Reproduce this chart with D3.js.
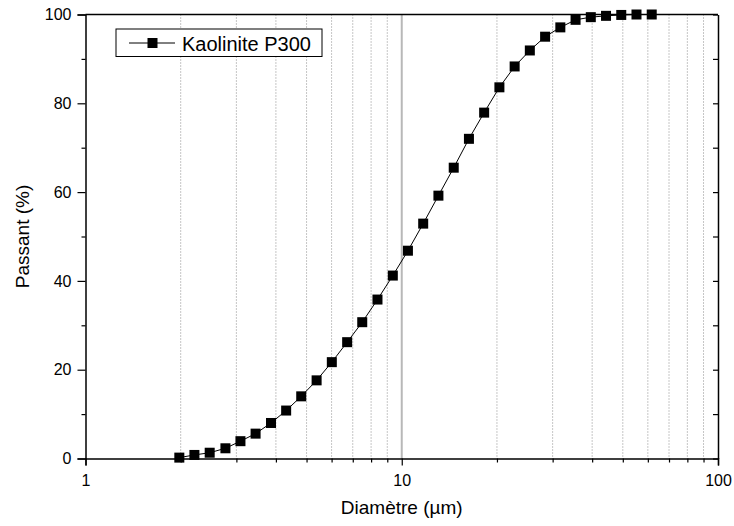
<!DOCTYPE html>
<html>
<head>
<meta charset="utf-8">
<script src="https://cdn.jsdelivr.net/npm/d3@7"></script>
<style>
  body { margin: 0; background: #fff; }
  svg { font-family: "Liberation Sans", Arial, sans-serif; }
</style>
</head>
<body>
<svg id="chart" width="734" height="526"></svg>
<script>
// data
const diameters = [1.98, 2.21, 2.47, 2.77, 3.09, 3.45, 3.86, 4.31, 4.81, 5.38, 6.01, 6.72,
  7.50, 8.38, 9.37, 10.46, 11.69, 13.06, 14.60, 16.31, 18.22, 20.36, 22.75, 25.41,
  28.40, 31.73, 35.45, 39.61, 44.25, 49.44, 55.24, 61.72];
const passing = [0.2, 0.8, 1.3, 2.3, 3.9, 5.6, 8.0, 10.8, 14.0, 17.6, 21.7, 26.2,
  30.7, 35.8, 41.2, 46.8, 52.9, 59.2, 65.5, 72.0, 77.9, 83.6, 88.3, 91.9,
  95.0, 97.1, 98.8, 99.4, 99.7, 99.9, 100, 100];
const seriesName = "Kaolinite P300";
const xTickLabels = [1, 10, 100];
const yTickLabels = [0, 20, 40, 60, 80, 100];

const svg = d3.select("#chart");
const plotLeft = 85.5, plotRight = 718, plotTop = 14.5, plotBottom = 458.5;

const x = d3.scaleLog().domain([1, 100]).range([plotLeft, plotRight]);
const y = d3.scaleLinear().domain([0, 100]).range([plotBottom, plotTop]);

const minorX = [];
[1, 10].forEach(d => { for (let k = 2; k <= 9; k++) minorX.push(d * k); });
const minorY = [10, 30, 50, 70, 90];

// grid lines
svg.append("g")
  .selectAll("line")
  .data(minorX)
  .enter().append("line")
    .attr("x1", d => x(d)).attr("x2", d => x(d))
    .attr("y1", plotTop).attr("y2", plotBottom)
    .attr("stroke", "#8c8c8c")
    .attr("stroke-width", 1)
    .attr("stroke-dasharray", "1,2");

svg.append("line")
  .attr("x1", x(10)).attr("x2", x(10))
  .attr("y1", plotTop).attr("y2", plotBottom)
  .attr("stroke", "#b8b8b8")
  .attr("stroke-width", 2);

// axes
const bottomAxis = svg.append("g")
  .attr("transform", `translate(0,${plotBottom})`)
  .call(d3.axisBottom(x).tickValues(xTickLabels).tickFormat(d3.format("d")).tickSize(7).tickPadding(6));
svg.append("g")
  .attr("transform", `translate(0,${plotBottom})`)
  .call(d3.axisBottom(x).tickValues(minorX).tickFormat("").tickSize(4))
  .call(g => g.select(".domain").remove());

const leftAxis = svg.append("g")
  .attr("transform", `translate(${plotLeft},0)`)
  .call(d3.axisLeft(y).tickValues(yTickLabels).tickSize(8).tickPadding(6));
svg.append("g")
  .attr("transform", `translate(${plotLeft},0)`)
  .call(d3.axisLeft(y).tickValues(minorY).tickFormat("").tickSize(4))
  .call(g => g.select(".domain").remove());

svg.append("g")
  .attr("transform", `translate(${plotRight},0)`)
  .call(d3.axisLeft(y).tickValues(yTickLabels.concat(minorY)).tickFormat("").tickSize(5).tickSizeOuter(0));

svg.append("line")
  .attr("x1", plotLeft).attr("x2", plotRight)
  .attr("y1", plotTop).attr("y2", plotTop)
  .attr("stroke", "#000").attr("stroke-width", 1.5);

svg.selectAll(".domain").attr("stroke-width", 1.5);
svg.selectAll(".tick line").attr("stroke-width", 1.2);
svg.selectAll(".tick text").attr("font-size", 16).attr("font-family", "Liberation Sans, Arial, sans-serif").attr("fill", "#000");
bottomAxis.selectAll(".tick text").attr("dy", "0.9em");

// axis titles
svg.append("text")
  .attr("x", (plotLeft + plotRight) / 2)
  .attr("y", 514)
  .attr("text-anchor", "middle")
  .attr("font-size", 19)
  .text("Diamètre (µm)");

svg.append("text")
  .attr("transform", `translate(29,${(plotTop + plotBottom) / 2}) rotate(-90)`)
  .attr("text-anchor", "middle")
  .attr("font-size", 19)
  .text("Passant (%)");

// series
const pts = diameters.map((d, i) => ({ d, p: passing[i] }));
const line = d3.line().x(v => x(v.d)).y(v => y(v.p));

svg.append("path")
  .datum(pts)
  .attr("fill", "none")
  .attr("stroke", "#000")
  .attr("stroke-width", 1)
  .attr("d", line);

const S = 10;
svg.append("g")
  .selectAll("rect")
  .data(pts)
  .enter().append("rect")
    .attr("x", v => x(v.d) - S / 2)
    .attr("y", v => y(v.p) - S / 2)
    .attr("width", S).attr("height", S)
    .attr("fill", "#000");

// legend
const lg = svg.append("g").attr("transform", "translate(116,29)");
lg.append("rect")
  .attr("width", 206).attr("height", 27.5)
  .attr("fill", "#fff").attr("stroke", "#000").attr("stroke-width", 1);
lg.append("line")
  .attr("x1", 13).attr("x2", 59).attr("y1", 14).attr("y2", 14)
  .attr("stroke", "#000").attr("stroke-width", 1);
lg.append("rect")
  .attr("x", 36.5 - S / 2).attr("y", 14 - S / 2)
  .attr("width", S).attr("height", S).attr("fill", "#000");
lg.append("text")
  .attr("x", 66).attr("y", 21.5)
  .attr("font-size", 20)
  .text(seriesName);
</script>
</body>
</html>
